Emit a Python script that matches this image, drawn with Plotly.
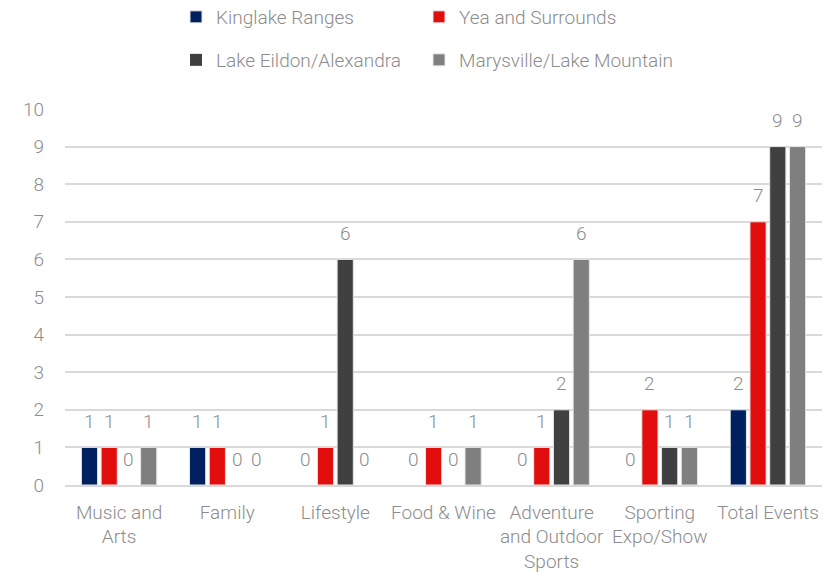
import plotly.graph_objects as go

categories = ['Music and<br>Arts', 'Family', 'Lifestyle', 'Food & Wine',
              'Adventure<br>and Outdoor<br>Sports', 'Sporting<br>Expo/Show', 'Total Events']

kinglake = [1, 1, 0, 0, 0, 0, 2]
yea = [1, 1, 1, 1, 1, 2, 7]
eildon = [0, 0, 6, 0, 2, 1, 9]
marysville = [1, 0, 0, 1, 6, 1, 9]

series = [
    ('Kinglake Ranges', kinglake, '#002060'),
    ('Yea and Surrounds', yea, '#E20E0E'),
    ('Lake Eildon/Alexandra', eildon, '#404040'),
    ('Marysville/Lake Mountain', marysville, '#7F7F7F'),
]

# page has an 8px body margin, so the figure is sized to fit the window
W, H = 828, 571
label_font = dict(family='Roboto', size=19, color='#8C8C8C', weight=300)
BARGAP = 0.27

# one small legend per entry, laid out as a 2x2 grid like the original
legend_pos = [(168, 9), (411, 9), (168, 52), (411, 52)]
legend_ids = ['legend', 'legend2', 'legend3', 'legend4']

fig = go.Figure()
for j, (name, vals, color) in enumerate(series):
    fig.add_trace(go.Bar(
        x=categories, y=vals, name=name,
        marker=dict(color=color,
                    line=dict(color='#E6E6E6', width=[0 if v == 0 else 1 for v in vals])),
        legend=legend_ids[j],
    ))
    # data labels above each bar (Excel style, fixed pixel gap)
    off = (j - 1.5) * (1 - BARGAP) / len(series)
    for i, v in enumerate(vals):
        fig.add_annotation(x=i + off, y=v, text=str(v), showarrow=False,
                           yanchor='middle', yshift=26, font=label_font)

legends = {}
for lid, (px_x, px_y) in zip(legend_ids, legend_pos):
    legends[lid] = dict(orientation='h', xref='container', yref='container',
                        x=px_x / W, y=1 - px_y / H,
                        xanchor='left', yanchor='middle', font=label_font, itemwidth=30,
                        bgcolor='rgba(0,0,0,0)')

fig.update_layout(
    width=W, height=H,
    margin=dict(l=57, r=14, t=101, b=94, autoexpand=False),
    paper_bgcolor='white', plot_bgcolor='white',
    font=label_font,
    barmode='group', bargap=BARGAP, bargroupgap=0.18,
    showlegend=True,
    **legends,
)
fig.update_yaxes(range=[0, 10], dtick=1, showgrid=True, gridcolor='#D9D9D9', gridwidth=1.5,
                 zeroline=False, showline=False, ticks='', ticklabelstandoff=20,
                 tickfont=label_font, automargin=False)
fig.update_xaxes(showline=True, linecolor='#D9D9D9', linewidth=1.5, ticks='',
                 tickfont=label_font, ticklabelstandoff=9, automargin=False)

fig.write_html('out.html')
